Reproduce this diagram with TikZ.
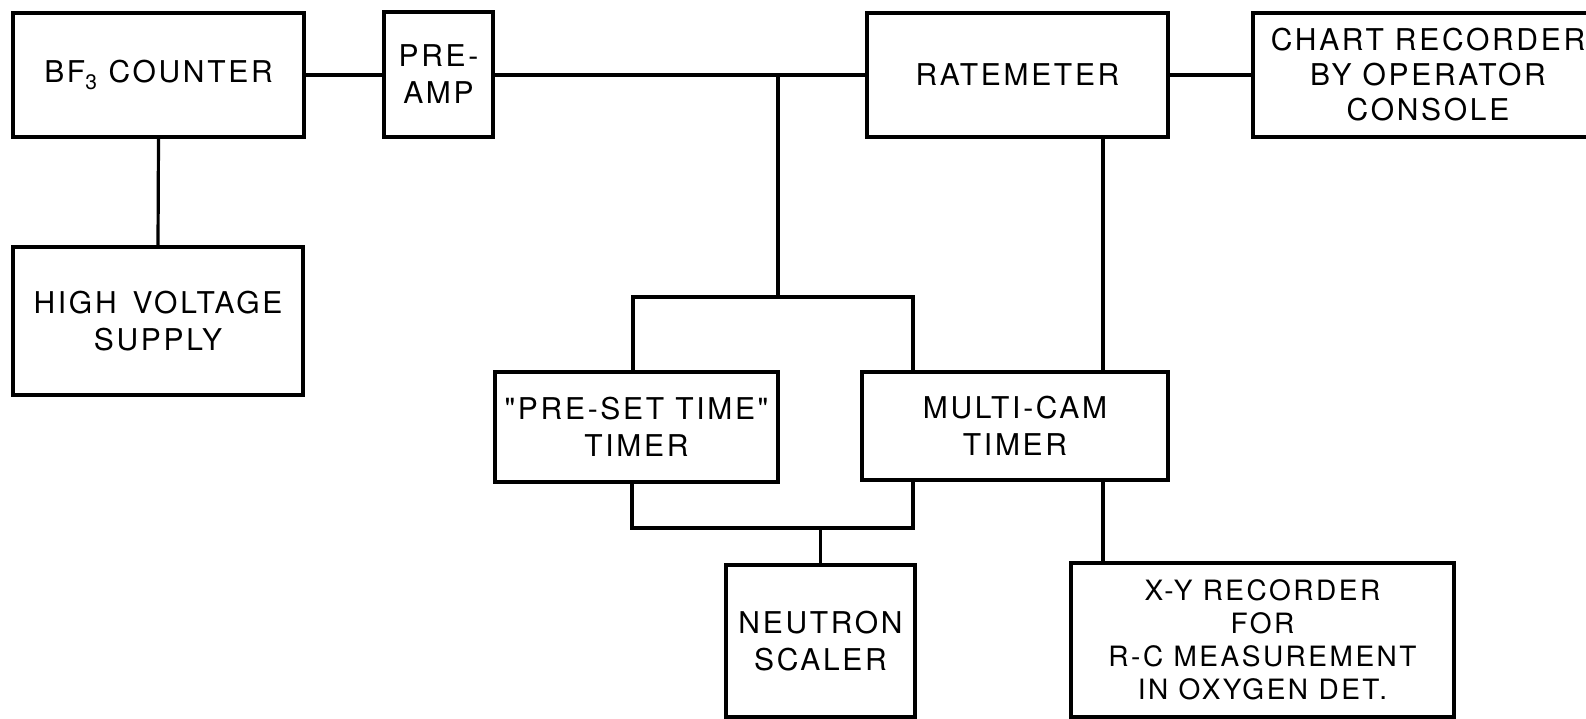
\documentclass[tikz,border=0pt]{standalone}
\usepackage{fontspec}
\setmainfont[LetterSpace=9,Ligatures=TeXOff]{TeX Gyre Heros}
\begin{document}
\begin{tikzpicture}[x=1pt,y=-1pt,
  blk/.style={draw=black,line width=3.4pt,inner sep=0pt,align=center,
    font=\fontsize{30}{37}\selectfont},
  wire/.style={line width=3.2pt,draw=black}]
\useasboundingbox (0,0) rectangle (1586,718);
\clip (0,0) rectangle (1586,718);
\fill[white] (0,0) rectangle (1586,718);
\node[blk,minimum width=291pt,minimum height=124pt] (bf) at (158.5,75) {BF\textsubscript{3} COUNTER};
\node[blk,minimum width=290pt,minimum height=148pt] (hv) at (158,321) {HIGH \,VOLTAGE\\SUPPLY};
\node[blk,minimum width=109pt,minimum height=125pt] (pre) at (438.5,74.5) {PRE-\\AMP};
\node[blk,minimum width=301pt,minimum height=124pt] (rate) at (1017.5,75) {RATEMETER};
\node[blk,minimum width=350pt,minimum height=124pt,font=\fontsize{30}{35}\selectfont] (chart) at (1428,75) {CHART RECORDER\\BY OPERATOR\\CONSOLE};
\node[blk,minimum width=283pt,minimum height=110pt] (preset) at (636.5,427) {"PRE-SET TIME"\\TIMER};
\node[blk,minimum width=306pt,minimum height=108pt] (multi) at (1015,426) {MULTI-CAM\\TIMER};
\node[blk,minimum width=189pt,minimum height=152pt] (neutron) at (820.5,641) {NEUTRON\\SCALER};
\node[blk,minimum width=383pt,minimum height=154pt,font=\fontsize{28}{33}\selectfont] (xy) at (1262.5,640) {X-Y RECORDER\\FOR\\R-C MEASUREMENT\\IN OXYGEN DET.};
\coordinate (j1) at (778,75);
\coordinate (tl) at (633,297);
\coordinate (tr) at (913,297);
\coordinate (bl) at (632,528);
\coordinate (br) at (913,528);
\coordinate (rv) at (1103,0);
\draw[wire] (bf.east) -- (bf.east -| pre.west);
\draw[wire] (bf.south) -- (hv.north);
\draw[wire] (pre.east |- rate.west) -- (rate.west);
\draw[wire] (rate.east) -- (chart.west);
\draw[wire] (j1) -- (j1 |- tl);
\draw[wire] (preset.north -| tl) -- (tl) -- (tr) -- (multi.north -| tr);
\draw[wire] (preset.south -| bl) -- (bl) -- (br) -- (multi.south -| br);
\draw[wire] (neutron.north) -- (neutron.north |- bl);
\draw[wire] (rate.south -| rv) -- (multi.north -| rv);
\draw[wire] (multi.south -| rv) -- (xy.north -| rv);
\end{tikzpicture}
\end{document}
